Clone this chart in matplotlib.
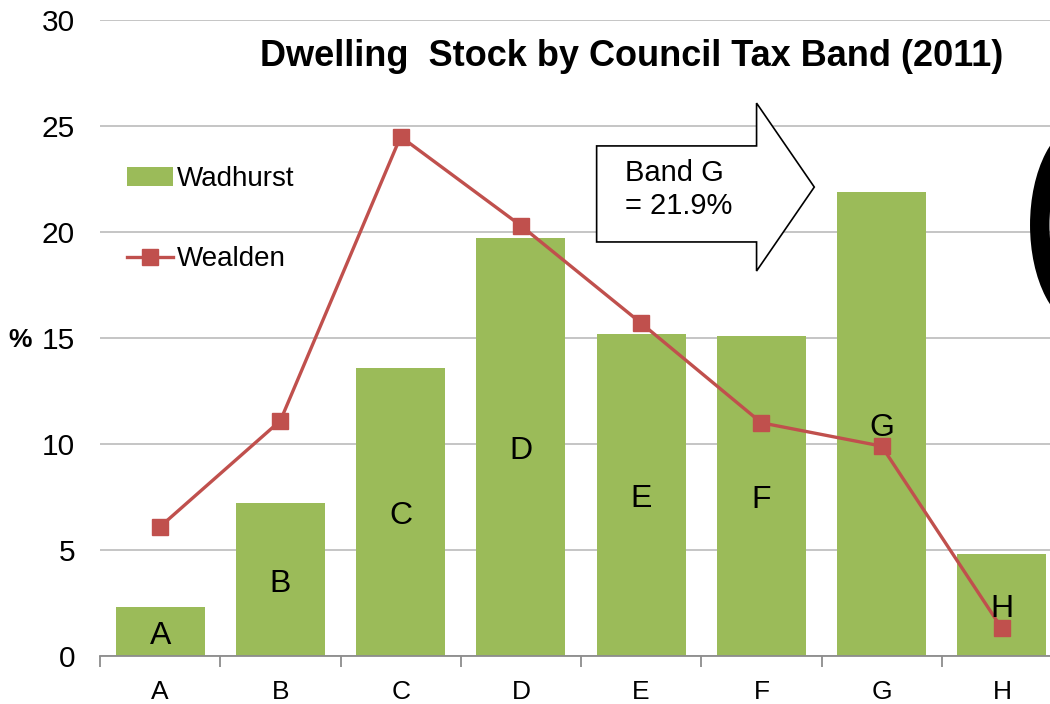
import numpy as np
import matplotlib.pyplot as plt
from matplotlib.patches import Polygon, Ellipse, Patch
from matplotlib.lines import Line2D

plt.rcParams['font.family'] = ['Liberation Sans', 'DejaVu Sans']

bands = ['A', 'B', 'C', 'D', 'E', 'F', 'G', 'H']
wadhurst = [2.3, 7.2, 13.6, 19.7, 15.2, 15.1, 21.9, 4.8]
wealden = [6.1, 11.1, 24.5, 20.3, 15.7, 11.0, 9.9, 1.3]

GREEN = '#9BBB59'
RED = '#C0504D'
GRID = '#C0C0C0'

fig = plt.figure(figsize=(10.5, 7.04), dpi=100)
ax = fig.add_axes([100 / 1050, 48 / 704, 962 / 1050, 636 / 704])
x = np.arange(len(bands))

ax.bar(x, wadhurst, width=0.74, color=GREEN, zorder=2)
ax.plot(x, wealden, color=RED, lw=2.4, marker='s', markersize=11, zorder=3)

# band letters inside bars, roughly at mid-height
for xi, v, b in zip(x, wadhurst, bands):
    ax.text(xi, v / 2 - 0.2, b, ha='center', va='center', fontsize=23, zorder=4)

ax.set_xlim(-0.5, 7.5)
ax.set_ylim(0, 30)
ax.set_yticks(np.arange(0, 31, 5))
ax.yaxis.grid(True, color=GRID, lw=1.3)
ax.set_axisbelow(True)
for s in ['top', 'right', 'left']:
    ax.spines[s].set_visible(False)
ax.spines['bottom'].set_color('#8C8C8C')
ax.spines['bottom'].set_linewidth(1.3)
ax.set_xticks(x)
ax.set_xticklabels(bands, fontsize=19)
ax.set_xticks(np.arange(-0.5, 8, 1), minor=True)
ax.tick_params(axis='x', which='major', length=0, pad=17)
ax.tick_params(axis='x', which='minor', length=8, color='#8C8C8C', width=1.3)
ax.tick_params(axis='y', length=0, pad=18, labelsize=21.5)

fig.text(20 / 1050, 1 - 340 / 704, '%', fontsize=19, fontweight='bold', ha='center', va='center')
fig.text(632 / 1050, 1 - 57 / 704, 'Dwelling  Stock by Council Tax Band (2011)',
         fontsize=26, fontweight='bold', ha='center', va='center')

# callout arrow
arrow = Polygon([(3.63, 19.53), (4.96, 19.53), (4.96, 18.16), (5.44, 22.12),
                 (4.96, 26.08), (4.96, 24.06), (3.63, 24.06)],
                closed=True, facecolor='white', edgecolor='black', lw=1.2, zorder=5)
ax.add_patch(arrow)
ax.text(3.87, 22.0, 'Band G\n= 21.9%', fontsize=21, ha='left', va='center',
        linespacing=1.22, zorder=6)

# partial ring at right edge
ring = Ellipse((7.73, 20.33), 0.83, 9.0, facecolor='none', edgecolor='black',
               lw=14, clip_on=False, zorder=5)
ax.add_patch(ring)

handles = [Patch(facecolor=GREEN),
           Line2D([], [], color=RED, lw=2.4, marker='s', markersize=11)]
leg = ax.legend(handles, ['Wadhurst', 'Wealden'], loc='upper left',
                bbox_to_anchor=(0.028, 0.77), frameon=False, fontsize=20,
                labelspacing=1.95, handlelength=1.65, handletextpad=0.15,
                borderpad=0, borderaxespad=0)

fig.savefig('out.png', dpi=100)
